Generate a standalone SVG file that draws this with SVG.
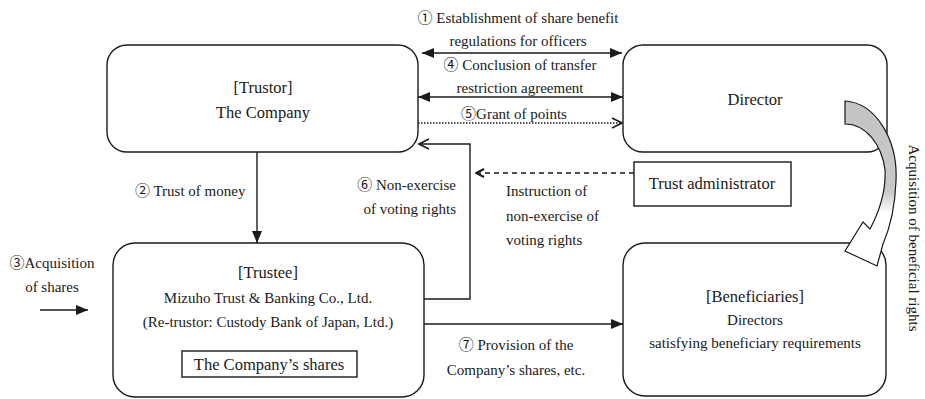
<svg xmlns="http://www.w3.org/2000/svg" width="925" height="399" viewBox="0 0 925 399">
<style>
text{font-family:"Liberation Serif","Times New Roman","Noto Sans CJK JP",serif;fill:#1a1a1a}
.t{font-size:16.5px;text-anchor:middle}
.b{font-size:15px;text-anchor:middle}
.l{font-size:15px}
.m{text-anchor:middle}
.e{text-anchor:end}
.box{fill:#fff;stroke:#1a1a1a;stroke-width:1.4}
.ln{fill:none;stroke:#1a1a1a;stroke-width:1.4}
</style>
<defs>
<marker id="fa" viewBox="0 0 12 10" refX="12" refY="5" markerWidth="12" markerHeight="10" markerUnits="userSpaceOnUse" orient="auto-start-reverse"><path d="M0,0 L12,5 L0,10 Z" fill="#1a1a1a"/></marker>
<marker id="oa" viewBox="0 0 12 12" refX="11" refY="6" markerWidth="12" markerHeight="12" markerUnits="userSpaceOnUse" orient="auto"><path d="M1,1 L11,6 L1,11" fill="none" stroke="#1a1a1a" stroke-width="1.6"/></marker>
<marker id="sa" viewBox="0 0 10 10" refX="9" refY="5" markerWidth="10" markerHeight="10" markerUnits="userSpaceOnUse" orient="auto"><path d="M1,1 L9,5 L1,9" fill="none" stroke="#1a1a1a" stroke-width="2"/></marker>
<linearGradient id="gr" x1="0" y1="0" x2="0" y2="1"><stop offset="0" stop-color="#c4c4c4"/><stop offset="0.55" stop-color="#c8c8c8"/><stop offset="0.68" stop-color="#fff"/></linearGradient>
</defs>

<g id="trustor"><rect class="box" x="107" y="45" width="311" height="107" rx="20"/><text class="t" x="263" y="93">[Trustor]</text><text class="t" x="263" y="118">The Company</text></g>
<g id="director"><rect class="box" x="623" y="45" width="264" height="107" rx="20"/><text class="t" x="755" y="105">Director</text></g>
<g id="trust-administrator"><rect class="box" x="634" y="162" width="157" height="44"/><text class="t" x="712" y="189">Trust administrator</text></g>
<g id="trustee"><rect class="box" x="113" y="243" width="311" height="154" rx="22"/><text class="t" x="268" y="278">[Trustee]</text><text class="b" x="268" y="303">Mizuho Trust &amp; Banking Co., Ltd.</text><text class="b" x="268" y="327">(Re-trustor: Custody Bank of Japan, Ltd.)</text><rect class="box" x="182" y="351" width="175" height="26"/><text class="t" x="269" y="370">The Company’s shares</text></g>
<g id="beneficiaries"><rect class="box" x="623" y="243" width="263" height="153" rx="22"/><text class="t" x="755" y="302">[Beneficiaries]</text><text class="b" x="755" y="325">Directors</text><text class="b" x="755" y="348">satisfying beneficiary requirements</text></g>

<g id="connectors">
<line class="ln" x1="422" y1="53" x2="622" y2="53" marker-start="url(#fa)" marker-end="url(#fa)"/>
<line class="ln" x1="418" y1="97" x2="623" y2="97" marker-start="url(#fa)" marker-end="url(#fa)"/>
<line class="ln" x1="418" y1="123" x2="622" y2="123" stroke-dasharray="1.5 1.5" marker-end="url(#oa)"/>
<line class="ln" x1="257" y1="152" x2="257" y2="243" marker-end="url(#fa)"/>
<polyline class="ln" points="424,299 470,299 470,144 419,144" marker-end="url(#oa)"/>
<line class="ln" x1="634" y1="173" x2="476" y2="173" stroke-dasharray="5 4" marker-end="url(#sa)"/>
<line class="ln" x1="424" y1="324" x2="623" y2="324" marker-end="url(#fa)"/>
<line class="ln" x1="40" y1="310" x2="88" y2="310" marker-end="url(#fa)"/>
<path d="M845,101 C876,103 898,140 896,181 C895,210 889,230 883,244 L877,266 L845,251 L863,222 L870,229 C880,210 886,190 885,170 C882,145 866,124 845,124 Z" fill="url(#gr)" stroke="#1a1a1a" stroke-width="1.2"/>
</g>

<g id="labels">
<text class="l m" x="518" y="23">① Establishment of share benefit</text>
<text class="l m" x="518" y="46">regulations for officers</text>
<text class="l m" x="520" y="70">④ Conclusion of transfer</text>
<text class="l m" x="520" y="93">restriction agreement</text>
<text class="l m" x="514" y="119">⑤Grant of points</text>
<text class="l" x="135" y="196">② Trust of money</text>
<text class="l e" x="456" y="190">⑥ Non-exercise</text>
<text class="l e" x="456" y="214">of voting rights</text>
<text class="l" x="506" y="196">Instruction of</text>
<text class="l" x="506" y="221">non-exercise of</text>
<text class="l" x="506" y="245">voting rights</text>
<text class="l m" x="52" y="268">③Acquisition</text>
<text class="l m" x="52" y="292">of shares</text>
<text class="l m" x="516" y="350">⑦ Provision of the</text>
<text class="l m" x="516" y="375">Company’s shares, etc.</text>
<text class="l m" transform="translate(909,238) rotate(90)">Acquisition of beneficial rights</text>
</g>
</svg>
